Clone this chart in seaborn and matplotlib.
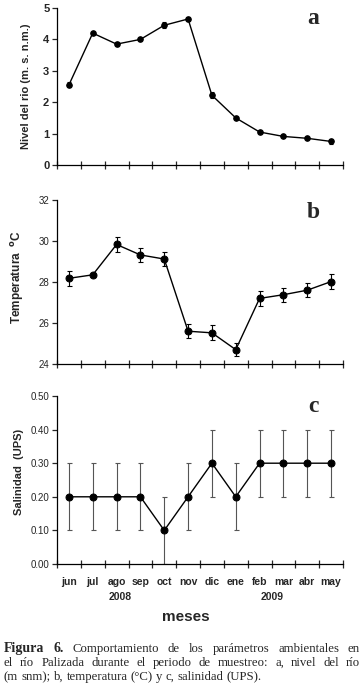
import numpy as np
import matplotlib
matplotlib.use("Agg")
import matplotlib.pyplot as plt
import seaborn as sns

# meses de muestreo
months = ["jun", "jul", "ago", "sep", "oct", "nov", "dic", "ene", "feb", "mar", "abr", "may"]
years = ["2008", "2009"]

# a: nivel del rio (m snm)
nivel = [2.55, 4.20, 3.85, 4.00, 4.45, 4.65, 2.22, 1.50, 1.05, 0.91, 0.85, 0.75]
nivel_err = [0.08, 0.03, 0.06, 0.04, 0.09, 0.06, 0.09, 0.03, 0.04, 0.03, 0.03, 0.09]

# b: temperatura (C)
temperatura = [28.18, 28.35, 29.83, 29.32, 29.12, 25.60, 25.52, 24.70, 27.20, 27.38, 27.60, 28.02]
temperatura_err = [0.36, 0.05, 0.35, 0.33, 0.35, 0.35, 0.36, 0.33, 0.36, 0.35, 0.35, 0.35]

# c: salinidad (UPS)
salinidad = [0.20, 0.20, 0.20, 0.20, 0.10, 0.20, 0.30, 0.20, 0.30, 0.30, 0.30, 0.30]
salinidad_err = [0.10, 0.10, 0.10, 0.10, 0.10, 0.10, 0.10, 0.10, 0.10, 0.10, 0.10, 0.10]

sns.set_style("ticks")
plt.rcParams['font.family'] = ['Liberation Sans', 'DejaVu Sans']

W, H = 362, 689
fig = plt.figure(figsize=(W / 100, H / 100), dpi=100)


def px_axes(left, top, right, bottom):
    return fig.add_axes([left / W, 1 - bottom / H, (right - left) / W, (bottom - top) / H])


def draw_panel(ax, values, errors, ecolor, msize, capsize):
    x = np.arange(len(months))
    ax.errorbar(x, values, yerr=errors, fmt='none', ecolor=ecolor, elinewidth=0.8,
                capsize=capsize, capthick=0.8, zorder=2)
    sns.lineplot(x=x, y=values, ax=ax, color='black', linewidth=1.0, marker='o',
                 markersize=msize, markeredgecolor='black', zorder=3)
    ax.set_xlim(-0.5, 11.5)
    ax.set_xticks(np.arange(-0.5, 12, 1))
    ax.set_xticklabels([])
    ax.tick_params(axis='x', which='major', direction='inout', length=6, width=0.9)
    ax.tick_params(axis='y', direction='out', length=3.5, width=0.9, pad=2)
    for side in ['top', 'right']:
        ax.spines[side].set_visible(False)
    for side in ['left', 'bottom']:
        ax.spines[side].set_linewidth(0.9)
        ax.spines[side].set_color('black')


ax_a = px_axes(57, 8, 343, 165)
ax_b = px_axes(57, 200, 343, 364)
ax_c = px_axes(57, 396, 343, 564)

draw_panel(ax_a, nivel, nivel_err, 'black', 4, 1.5)
ax_a.set_ylim(0, 5)
ax_a.set_yticks(range(0, 6))
ax_a.set_yticklabels([str(v) for v in range(0, 6)], fontsize=8, fontweight='bold')
ax_a.set_ylabel("Nivel del rio (m. s. n.m.)", fontsize=8, fontweight='bold')
ax_a.yaxis.set_label_coords(-0.09, 0.5)

draw_panel(ax_b, temperatura, temperatura_err, 'black', 5, 1.8)
ax_b.set_ylim(24, 32)
ax_b.set_yticks(range(24, 33, 2))
ax_b.set_yticklabels([str(v) for v in range(24, 33, 2)], fontsize=7)
ax_b.set_ylabel(r"Temperatura  $^{\mathbf{o}}$C", fontsize=8.5, fontweight='bold')
ax_b.yaxis.set_label_coords(-0.11, 0.53)

draw_panel(ax_c, salinidad, salinidad_err, '#555555', 5, 1.8)
ax_c.set_ylim(0, 0.5)
ax_c.set_yticks(np.arange(0, 0.51, 0.1))
ax_c.set_yticklabels([f"{v:.2f}" for v in np.arange(0, 0.51, 0.1)], fontsize=7)
ax_c.set_ylabel("Salinidad  (UPS)", fontsize=8, fontweight='bold')
ax_c.yaxis.set_label_coords(-0.115, 0.55)
ax_c.set_xticks(np.arange(12), minor=True)
ax_c.set_xticklabels(months, minor=True, fontsize=7.5, fontweight='bold')
ax_c.tick_params(axis='x', which='minor', length=0, pad=9.5)

# letras de panel
for ax, letter, ypx in [(ax_a, "a", 18), (ax_b, "b", 212), (ax_c, "c", 407)]:
    fig.text(313 / W, 1 - ypx / H, letter, ha='center', va='center', fontsize=17,
             fontweight='bold', family='Liberation Serif')

# anios y titulo del eje x
fig.text(120 / W, 1 - 597 / H, years[0], ha='center', va='center', fontsize=7.5, fontweight='bold')
fig.text(272 / W, 1 - 597 / H, years[1], ha='center', va='center', fontsize=7.5, fontweight='bold')
fig.text(186 / W, 1 - 617 / H, "meses", ha='center', va='center', fontsize=11,
         fontweight='bold')

# pie de figura, justificado a mano
caption = [
    [("Figura", 'bold'), ("6.", 'bold'), ("Comportamiento", 'normal'), ("de", 'normal'),
     ("los", 'normal'), ("parámetros", 'normal'), ("ambientales", 'normal'), ("en", 'normal')],
    [(w, 'normal') for w in "el río Palizada durante el periodo de muestreo: a, nivel del río".split()],
    [(w, 'normal') for w in "(m snm); b, temperatura (°C) y c, salinidad (UPS).".split()],
]
baselines = [652, 666, 680]
x0, x1 = 4, 360
renderer = fig.canvas.get_renderer()
for i, words in enumerate(caption):
    texts = []
    for w, weight in words:
        size = 10 if weight == 'bold' else 9.2
        t = fig.text(0, 1 - baselines[i] / H, w, ha='left', va='baseline', fontsize=size,
                     fontweight=weight, family='Liberation Serif')
        texts.append(t)
    widths = [t.get_window_extent(renderer).width for t in texts]
    if i < len(caption) - 1:
        gap = (x1 - x0 - sum(widths)) / (len(words) - 1)
    else:
        gap = 3.2
    x = x0
    for t, wd in zip(texts, widths):
        t.set_x(x / W)
        x += wd + gap

fig.savefig("out.png", dpi=100, facecolor='white')
